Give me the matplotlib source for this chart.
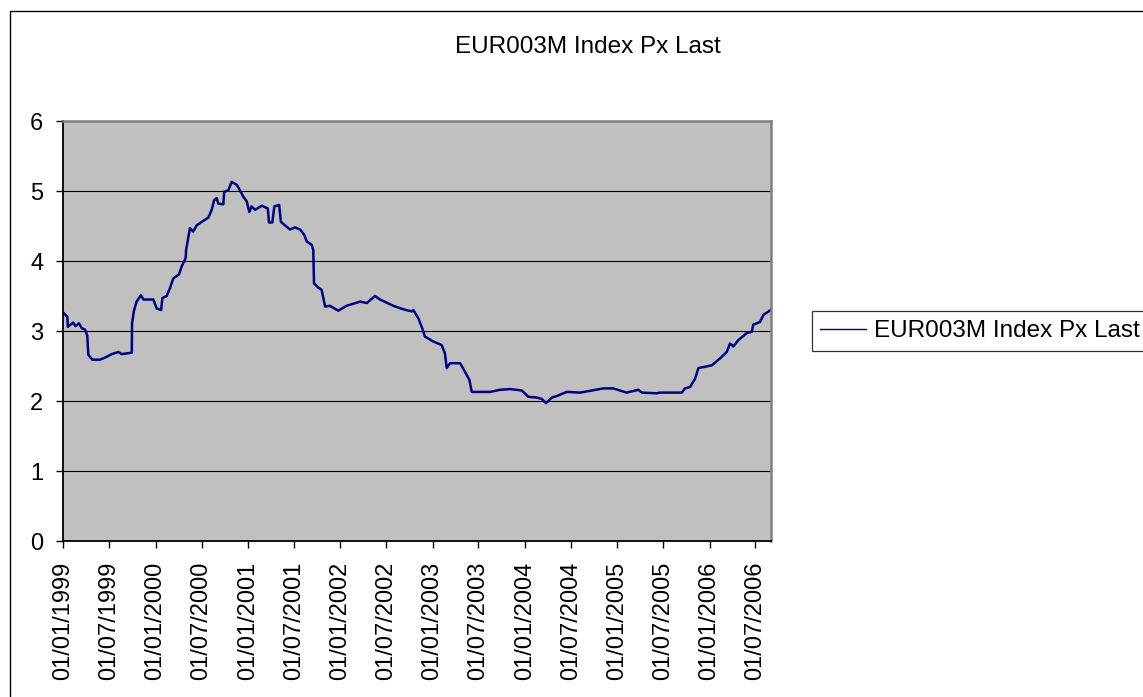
import matplotlib
matplotlib.use("Agg")
import matplotlib.pyplot as plt
import matplotlib.dates as mdates
from matplotlib.patches import Rectangle
import pandas as pd

plt.rcParams['font.family'] = ['Liberation Sans', 'DejaVu Sans']

title = "EUR003M Index Px Last"
series_name = "EUR003M Index Px Last"

# values, dd/mm/yyyy in the picture
dates = [
    "1999-01-04", "1999-01-17", "1999-01-19", "1999-02-09", "1999-02-18", "1999-03-04",
    "1999-03-15", "1999-03-28", "1999-04-06", "1999-04-10", "1999-04-26", "1999-05-26",
    "1999-06-15", "1999-07-12", "1999-08-07", "1999-08-20", "1999-09-29", "1999-09-30",
    "1999-10-07", "1999-10-18", "1999-11-04", "1999-11-14", "1999-12-23", "2000-01-06",
    "2000-01-23", "2000-01-28", "2000-02-14", "2000-02-27", "2000-03-11", "2000-04-03",
    "2000-04-13", "2000-04-29", "2000-05-01", "2000-05-10", "2000-05-16", "2000-05-29",
    "2000-06-12", "2000-07-02", "2000-07-28", "2000-08-10", "2000-08-20", "2000-08-30",
    "2000-09-05", "2000-09-25", "2000-09-29", "2000-10-15", "2000-10-28", "2000-11-17",
    "2000-11-30", "2000-12-13", "2000-12-27", "2001-01-06", "2001-01-15", "2001-01-29",
    "2001-02-24", "2001-03-20", "2001-03-25", "2001-04-07", "2001-04-15", "2001-05-04",
    "2001-05-11", "2001-05-27", "2001-06-16", "2001-07-06", "2001-07-26", "2001-08-12",
    "2001-08-21", "2001-09-10", "2001-09-16", "2001-09-19", "2001-10-06", "2001-10-19",
    "2001-11-02", "2001-11-21", "2001-12-24", "2002-01-26", "2002-03-20", "2002-04-16",
    "2002-05-18", "2002-06-07", "2002-07-30", "2002-09-07", "2002-10-11", "2002-10-17",
    "2002-11-06", "2002-11-19", "2002-12-02", "2003-01-04", "2003-02-06", "2003-02-19",
    "2003-02-26", "2003-03-11", "2003-04-20", "2003-05-09", "2003-05-27", "2003-06-05",
    "2003-06-25", "2003-08-17", "2003-09-25", "2003-11-04", "2003-12-20", "2004-01-15",
    "2004-02-17", "2004-03-08", "2004-03-25", "2004-04-17", "2004-05-06", "2004-06-15",
    "2004-08-07", "2004-09-22", "2004-11-07", "2004-12-16", "2005-02-07", "2005-03-25",
    "2005-04-08", "2005-06-06", "2005-06-19", "2005-09-13", "2005-09-26", "2005-10-16",
    "2005-11-05", "2005-11-18", "2005-12-14", "2006-01-10", "2006-02-12", "2006-03-10",
    "2006-03-23", "2006-04-05", "2006-04-25", "2006-05-28", "2006-06-17", "2006-06-23",
    "2006-07-20", "2006-08-02", "2006-08-31",
]
px_last = [
    3.25, 3.20, 3.06, 3.12, 3.07, 3.11,
    3.04, 3.02, 2.93, 2.66, 2.59, 2.59,
    2.62, 2.67, 2.70, 2.67, 2.69, 3.11,
    3.28, 3.42, 3.51, 3.45, 3.45, 3.32,
    3.30, 3.47, 3.50, 3.61, 3.75, 3.81,
    3.92, 4.04, 4.16, 4.35, 4.47, 4.42,
    4.51, 4.56, 4.62, 4.73, 4.87, 4.90,
    4.82, 4.81, 4.99, 5.01, 5.13, 5.09,
    5.01, 4.92, 4.85, 4.70, 4.78, 4.73,
    4.79, 4.75, 4.55, 4.55, 4.78, 4.80,
    4.56, 4.51, 4.45, 4.48, 4.45, 4.37,
    4.28, 4.23, 4.16, 3.68, 3.62, 3.59,
    3.35, 3.36, 3.29, 3.36, 3.42, 3.40,
    3.50, 3.45, 3.36, 3.31, 3.28, 3.30,
    3.18, 3.06, 2.92, 2.85, 2.80, 2.68,
    2.47, 2.54, 2.54, 2.42, 2.30, 2.13,
    2.13, 2.13, 2.16, 2.17, 2.15, 2.06,
    2.05, 2.03, 1.97, 2.05, 2.07, 2.13,
    2.12, 2.15, 2.18, 2.18, 2.12, 2.16,
    2.12, 2.11, 2.12, 2.12, 2.18, 2.20,
    2.32, 2.47, 2.49, 2.51, 2.61, 2.70,
    2.82, 2.78, 2.87, 2.97, 2.99, 3.09,
    3.13, 3.23, 3.30,
]
y_ticks = [0, 1, 2, 3, 4, 5, 6]

x = pd.to_datetime(dates)

W, H = 1143, 697
fig = plt.figure(figsize=(W / 100, H / 100), dpi=100)
fig.patch.set_facecolor("white")

ax = fig.add_axes([63.3 / W, 1 - 541 / H, (770.7 - 63.3) / W, (541 - 121) / H])
ax.set_facecolor("#C0C0C0")
ax.plot(x, px_last, color="#000080", lw=1.8, label=series_name)

ax.set_ylim(0, 6)
ax.set_yticks(y_ticks)
ax.yaxis.grid(True, color="black", lw=0.8)
ax.set_axisbelow(True)

ax.set_xlim(pd.Timestamp("1999-01-01"), pd.Timestamp("2006-08-31"))
ax.xaxis.set_major_locator(mdates.MonthLocator(bymonth=[1, 7], bymonthday=1))
ax.xaxis.set_major_formatter(mdates.DateFormatter("%d/%m/%Y"))

ax.tick_params(axis="y", direction="out", length=5, width=1, pad=9.5, labelsize=17)
ax.tick_params(axis="x", direction="out", length=5, width=1, pad=10, labelsize=17,
               labelrotation=90)

for s in ("left", "bottom"):
    ax.spines[s].set_color("black")
    ax.spines[s].set_linewidth(1.3)
for s in ("top", "right"):
    ax.spines[s].set_color("#808080")
    ax.spines[s].set_linewidth(1.8)

fig.text(588 / W, 1 - 47 / H, title, ha="center", va="center", fontsize=17.5)

leg = fig.legend(loc="center left", bbox_to_anchor=(811.7 / W, 1 - 331 / H),
                 fontsize=17.5, frameon=True, fancybox=False, handlelength=1.9,
                 handletextpad=0.3, borderpad=0.35, borderaxespad=0)
leg.get_frame().set_edgecolor("black")
leg.get_frame().set_linewidth(0.9)
leg.get_lines()[0].set_linewidth(1.0)

# outer chart border (right/bottom edges fall outside the picture)
fig.patches.append(Rectangle((9.5 / W, -0.1), 1.2, 1 - 10.5 / H + 0.1,
                             transform=fig.transFigure, fill=False,
                             edgecolor="black", lw=1.0))

fig.savefig("out.png", dpi=100)
